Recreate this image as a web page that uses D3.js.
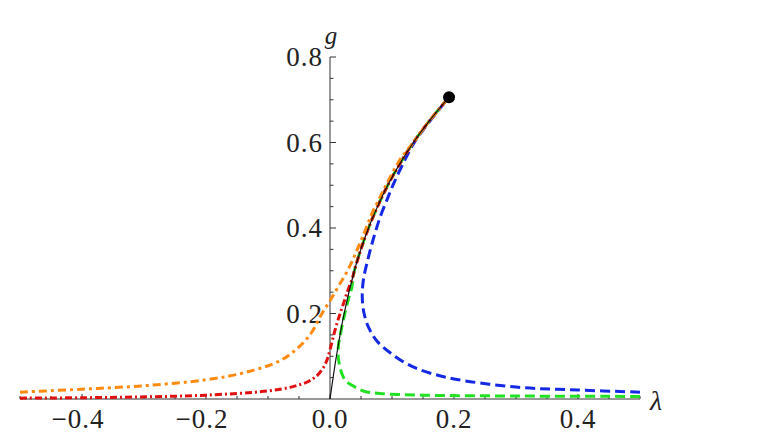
<!DOCTYPE html>
<html>
<head>
<meta charset="utf-8">
<script src="https://cdn.jsdelivr.net/npm/d3@7"></script>
<style>
  body { margin: 0; background: #fff; }
</style>
</head>
<body>
<div id="chart"></div>
<script>
// curves as [lambda, g] pairs
const exact = [[0, 0], [0.0103, 0.1], [0.0228, 0.2], [0.0393, 0.3], [0.0498, 0.35], [0.0621, 0.4],
  [0.0766, 0.45], [0.0931, 0.5], [0.1125, 0.55], [0.1345, 0.6], [0.16, 0.65], [0.192, 0.706]];
const blueCurve = [[0.5, 0.016], [0.4, 0.021], [0.3, 0.028], [0.19, 0.05], [0.134, 0.075],
  [0.097, 0.108], [0.076, 0.135], [0.063, 0.165], [0.055, 0.2], [0.052, 0.24], [0.054, 0.28],
  [0.06, 0.32], [0.069, 0.37], [0.081, 0.426], [0.093, 0.47], [0.103, 0.505], [0.121, 0.56],
  [0.136, 0.6], [0.161, 0.65], [0.192, 0.706]];
const greenCurve = [[0.5, 0.006], [0.3, 0.007], [0.15, 0.009], [0.08, 0.013], [0.055, 0.018],
  [0.043, 0.026], [0.032, 0.035], [0.024, 0.045], [0.019, 0.06], [0.016, 0.075], [0.0135, 0.095],
  [0.013, 0.11], [0.014, 0.13], [0.016, 0.145], [0.02, 0.175], [0.024, 0.2], [0.03, 0.235],
  [0.035, 0.26], [0.0393, 0.3], [0.0498, 0.35], [0.0621, 0.4], [0.0766, 0.45], [0.0931, 0.5],
  [0.1125, 0.55], [0.1345, 0.6], [0.16, 0.65], [0.192, 0.706]];
const redCurve = [[-0.5, 0.002], [-0.4, 0.003], [-0.3, 0.005], [-0.2, 0.009], [-0.1, 0.019],
  [-0.06, 0.029], [-0.035, 0.041], [-0.02, 0.056], [-0.01, 0.075], [-0.004, 0.095], [0, 0.115],
  [0.006, 0.15], [0.013, 0.185], [0.021, 0.22], [0.029, 0.255], [0.0356, 0.28], [0.0393, 0.3],
  [0.0498, 0.35], [0.0621, 0.4], [0.0766, 0.45], [0.0931, 0.5], [0.1125, 0.55], [0.1345, 0.6],
  [0.16, 0.65], [0.192, 0.706]];
const orangeCurve = [[-0.5, 0.016], [-0.4, 0.023], [-0.3, 0.031], [-0.2, 0.045], [-0.134, 0.063],
  [-0.08, 0.09], [-0.05, 0.122], [-0.03, 0.155], [-0.015, 0.195], [0, 0.23], [0.015, 0.267],
  [0.03, 0.305], [0.044, 0.35], [0.057, 0.395], [0.068, 0.435], [0.08, 0.47], [0.092, 0.505],
  [0.113, 0.56], [0.1345, 0.6], [0.16, 0.65], [0.192, 0.706]];
const endPoint = [0.192, 0.706];

const xTicks = [-0.4, -0.2, 0.0, 0.2, 0.4];
const yTicks = [0.2, 0.4, 0.6, 0.8];

const width = 760, height = 444;
const serif = 'Liberation Serif';

const svg = d3.select('#chart')
  .append('svg')
  .attr('width', width)
  .attr('height', height);

const x = d3.scaleLinear().domain([-0.5, 0.5]).range([20, 640]);
const y = d3.scaleLinear().domain([0, 0.8]).range([399, 57]);

const line = d3.line()
  .x(d => x(d[0]))
  .y(d => y(d[1]))
  .curve(d3.curveCatmullRom.alpha(0.5));

// Axes (Mathematica style, crossing at origin)
const axisColor = '#333';
const xMinor = d3.range(-0.5, 0.5001, 0.05).map(v => +v.toFixed(2));
const yMinor = d3.range(0.05, 0.8001, 0.05).map(v => +v.toFixed(2));

svg.append('line')
  .attr('x1', x(-0.5)).attr('x2', x(0.5))
  .attr('y1', y(0)).attr('y2', y(0))
  .attr('stroke', axisColor).attr('stroke-width', 1);

svg.append('line')
  .attr('x1', x(0)).attr('x2', x(0))
  .attr('y1', y(0)).attr('y2', y(0.8))
  .attr('stroke', axisColor).attr('stroke-width', 1);

svg.selectAll('.xminor')
  .data(xMinor)
  .enter().append('line')
  .attr('x1', d => x(d)).attr('x2', d => x(d))
  .attr('y1', y(0)).attr('y2', d => y(0) - (xTicks.some(t => Math.abs(t - d) < 1e-6) ? 5 : 3))
  .attr('stroke', axisColor).attr('stroke-width', 1);

svg.selectAll('.yminor')
  .data(yMinor)
  .enter().append('line')
  .attr('y1', d => y(d)).attr('y2', d => y(d))
  .attr('x1', x(0)).attr('x2', d => x(0) + (yTicks.some(t => Math.abs(t - d) < 1e-6) ? 6 : 3.5))
  .attr('stroke', axisColor).attr('stroke-width', 1);

svg.selectAll('.xlabel')
  .data(xTicks)
  .enter().append('text')
  .attr('x', d => x(d) + (d < 0 ? -4 : 0))
  .attr('y', 428)
  .attr('text-anchor', 'middle')
  .style('font-family', serif)
  .style('font-size', '27px')
  .style('letter-spacing', '1px')
  .attr('fill', '#222')
  .text(d => d3.format('.1f')(d).replace('-', '\u2212\u2009'));

svg.selectAll('.ylabel')
  .data(yTicks)
  .enter().append('text')
  .attr('x', x(0) - 7)
  .attr('y', d => y(d) + 9)
  .attr('text-anchor', 'end')
  .style('font-family', serif)
  .style('font-size', '27px')
  .style('letter-spacing', '1px')
  .attr('fill', '#222')
  .text(d => d3.format('.1f')(d));

svg.append('text')
  .attr('x', x(0) + 1)
  .attr('y', 44)
  .attr('text-anchor', 'middle')
  .style('font-family', serif)
  .style('font-size', '25px')
  .style('font-style', 'italic')
  .attr('fill', '#222')
  .text('g');

svg.append('text')
  .attr('x', 656)
  .attr('y', 410)
  .attr('text-anchor', 'middle')
  .style('font-family', serif)
  .style('font-size', '28px')
  .style('font-style', 'italic')
  .attr('fill', '#222')
  .text('\u03bb');

// Curves
const curves = [
  { data: blueCurve, color: '#1428e6', dash: '10,5' },
  { data: greenCurve, color: '#22e022', dash: '10,5' },
  { data: redCurve, color: '#e01010', dash: '7,3,2,3' },
  { data: orangeCurve, color: '#ff8a10', dash: '8,4,3,4' }
];

curves.forEach(c => {
  svg.append('path')
    .datum(c.data)
    .attr('fill', 'none')
    .attr('stroke', c.color)
    .attr('stroke-width', 3)
    .attr('stroke-dasharray', c.dash)
    .attr('d', line);
});

svg.append('path')
  .datum(exact)
  .attr('fill', 'none')
  .attr('stroke', '#111')
  .attr('stroke-width', 1.2)
  .attr('d', line);

svg.append('circle')
  .attr('cx', x(endPoint[0]))
  .attr('cy', y(endPoint[1]))
  .attr('r', 6)
  .attr('fill', '#000');
</script>
</body>
</html>
